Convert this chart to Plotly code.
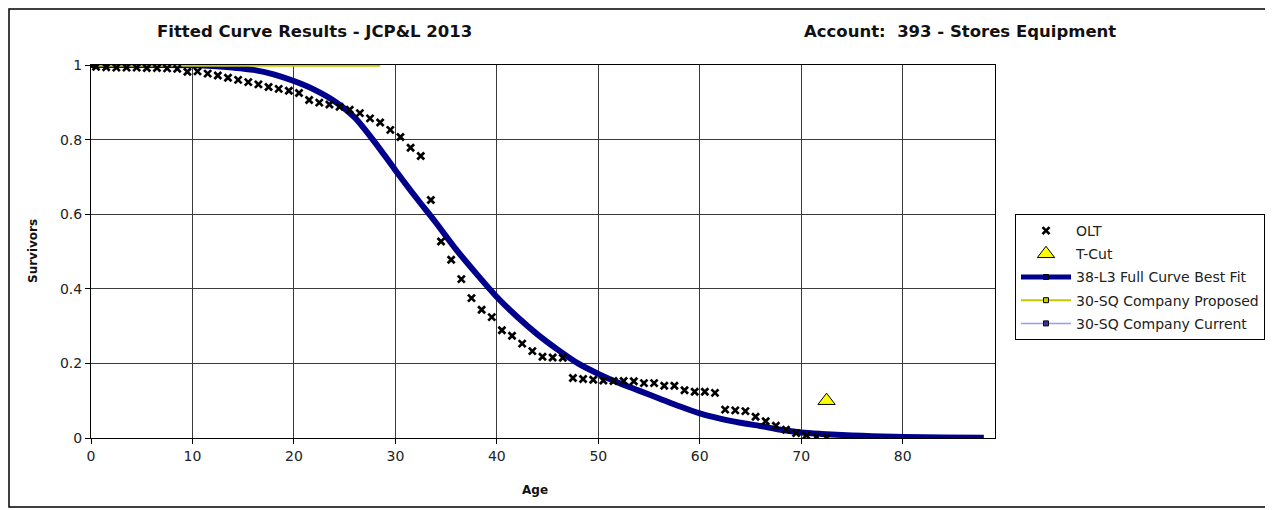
import plotly.graph_objects as go

# ---------------- data ----------------
olt_age = [0, 0.5, 1.5, 2.5, 3.5, 4.5, 5.5, 6.5, 7.5, 8.5, 9.5, 10.5, 11.5, 12.5, 13.5,
           14.5, 15.5, 16.5, 17.5, 18.5, 19.5, 20.5, 21.5, 22.5, 23.5, 24.5, 25.5, 26.5,
           27.5, 28.5, 29.5, 30.5, 31.5, 32.5, 33.5, 34.5, 35.5, 36.5, 37.5, 38.5, 39.5,
           40.5, 41.5, 42.5, 43.5, 44.5, 45.5, 46.5, 47.5, 48.5, 49.5, 50.5, 51.5, 52.5,
           53.5, 54.5, 55.5, 56.5, 57.5, 58.5, 59.5, 60.5, 61.5, 62.5, 63.5, 64.5, 65.5,
           66.5, 67.5, 68.5, 69.5, 70.5, 71.5, 72.5]
olt_surv = [1.0, 0.995, 0.994, 0.993, 0.993, 0.993, 0.992, 0.992, 0.991, 0.990, 0.982,
            0.983, 0.977, 0.972, 0.966, 0.960, 0.954, 0.948, 0.941, 0.936, 0.931, 0.925,
            0.906, 0.899, 0.894, 0.888, 0.880, 0.871, 0.857, 0.846, 0.826, 0.807, 0.778,
            0.756, 0.638, 0.527, 0.478, 0.426, 0.375, 0.344, 0.324, 0.289, 0.274, 0.253,
            0.233, 0.218, 0.216, 0.215, 0.161, 0.158, 0.156, 0.154, 0.153, 0.153, 0.152,
            0.147, 0.147, 0.140, 0.140, 0.128, 0.124, 0.124, 0.121, 0.076, 0.074, 0.072,
            0.057, 0.045, 0.033, 0.022, 0.013, 0.007, 0.003, 0.0]

tcut_age = [72.5]
tcut_surv = [0.1]

fit_age = [0, 5, 10, 12, 14, 16, 18, 20, 22, 24, 26, 28, 30, 32, 34, 36, 38, 40, 42, 44,
           46, 48, 50, 52, 54, 56, 58, 60, 62, 64, 66, 68, 70, 72, 74, 76, 78, 80, 84, 88]
fit_surv = [1.0, 1.0, 0.999, 0.997, 0.993, 0.987, 0.975, 0.957, 0.934, 0.903, 0.859,
            0.792, 0.718, 0.646, 0.577, 0.505, 0.440, 0.378, 0.325, 0.278, 0.237, 0.200,
            0.172, 0.148, 0.127, 0.106, 0.085, 0.066, 0.052, 0.041, 0.032, 0.022, 0.015,
            0.011, 0.008, 0.006, 0.004, 0.003, 0.0015, 0.0005]

sq_age = [0, 28.5]
sq_proposed = [1.0, 1.0]
sq_current = [1.0, 1.0]

x_ticks = [0, 10, 20, 30, 40, 50, 60, 70, 80]
y_ticks = [0, 0.2, 0.4, 0.6, 0.8, 1]
y_tick_labels = ["0", "0.2", "0.4", "0.6", "0.8", "1"]

# ---------------- styles ----------------
NAVY = "#00008C"
YELLOW_LINE = "#C8C800"
CURRENT = "#9999FF"
FONT = "DejaVu Sans"

fig = go.Figure()

fig.add_trace(go.Scatter(x=fit_age, y=fit_surv, mode="lines",
                         line=dict(color=NAVY, width=6, shape="spline", smoothing=0.8),
                         showlegend=False, hoverinfo="skip"))
fig.add_trace(go.Scatter(x=sq_age, y=sq_current, mode="lines", line=dict(color=CURRENT, width=2),
                         showlegend=False, hoverinfo="skip"))
fig.add_trace(go.Scatter(x=sq_age, y=sq_proposed, mode="lines", line=dict(color=YELLOW_LINE, width=3.5),
                         showlegend=False, hoverinfo="skip"))
fig.add_trace(go.Scatter(x=olt_age, y=olt_surv, mode="markers", name="OLT", legendgroup="g1",
                         marker=dict(symbol="x-thin", size=7, color="black", line=dict(color="black", width=2.7))))
fig.add_trace(go.Scatter(x=tcut_age, y=tcut_surv, mode="markers", name="T-Cut", legendgroup="g2",
                         marker=dict(symbol="triangle-up", size=15, color="#FFFF00", line=dict(color="black", width=1))))

# legend-only entries
fig.add_trace(go.Scatter(x=[None], y=[None], mode="lines+markers", name="38-L3 Full Curve Best Fit",
                         legendgroup="g3", line=dict(color=NAVY, width=5),
                         marker=dict(symbol="square", size=5, color=NAVY, line=dict(color="black", width=1))))
fig.add_trace(go.Scatter(x=[None], y=[None], mode="lines+markers", name="30-SQ Company Proposed",
                         legendgroup="g4", line=dict(color=YELLOW_LINE, width=2),
                         marker=dict(symbol="square", size=5, color=YELLOW_LINE, line=dict(color="black", width=1))))
fig.add_trace(go.Scatter(x=[None], y=[None], mode="lines+markers", name="30-SQ Company Current",
                         legendgroup="g5", line=dict(color=CURRENT, width=1.5),
                         marker=dict(symbol="square", size=5, color="#333399", line=dict(color="black", width=1))))

# page offset of 8px (body margin) compensated
OFF = 8
W, H = 1273 - OFF, 510 - OFF
L, R, T, B = 91 - OFF, 278, 65 - OFF, 72
PW, PH = W - L - R, H - T - B


def px_x(p):
    return (p - OFF - L) / PW


def px_y(p):
    return (H - B - (p - OFF)) / PH


axis_common = dict(ticks="outside", ticklen=5, tickcolor="black",
                   showgrid=True, gridcolor="#3a3a3a", gridwidth=1, zeroline=False,
                   showline=True, linecolor="black", linewidth=1, mirror=True,
                   layer="below traces",
                   tickfont=dict(family=FONT, size=14, color="#222"))

fig.update_layout(
    width=W, height=H,
    margin=dict(l=L, r=R, t=T, b=B, autoexpand=False),
    paper_bgcolor="white", plot_bgcolor="white",
    font=dict(family=FONT, size=14, color="#222"),
    xaxis=dict(range=[0, 89.1], tickvals=x_ticks, **axis_common),
    yaxis=dict(range=[0, 1], tickvals=y_ticks, ticktext=y_tick_labels, **axis_common),
    legend=dict(x=px_x(1015), y=px_y(214), xanchor="left", yanchor="top",
                bordercolor="black", borderwidth=1, bgcolor="white",
                font=dict(family=FONT, size=14, color="#222"), itemwidth=50,
                traceorder="grouped", tracegroupgap=2),
    showlegend=True,
)

fig.add_annotation(text="<b>Fitted Curve Results - JCP&L 2013</b>", xref="paper", yref="paper",
                   x=px_x(314), y=px_y(32), showarrow=False, xanchor="center", yanchor="middle",
                   font=dict(family=FONT, size=16.5, color="#111"))
fig.add_annotation(text="<b>Account:  393 - Stores Equipment</b>", xref="paper", yref="paper",
                   x=px_x(960), y=px_y(32), showarrow=False, xanchor="center", yanchor="middle",
                   font=dict(family=FONT, size=16.5, color="#111"))
fig.add_annotation(text="<b>Survivors</b>", xref="paper", yref="paper",
                   x=px_x(33), y=px_y(251), showarrow=False, textangle=-90,
                   xanchor="center", yanchor="middle", font=dict(family=FONT, size=12, color="#111"))
fig.add_annotation(text="<b>Age</b>", xref="paper", yref="paper",
                   x=px_x(535), y=px_y(490), showarrow=False,
                   xanchor="center", yanchor="middle", font=dict(family=FONT, size=12, color="#111"))

fig.add_shape(type="rect", xref="paper", yref="paper",
              x0=px_x(9), x1=px_x(1268), y0=px_y(507), y1=px_y(9),
              line=dict(color="black", width=1.5), layer="below")

fig.write_html("out.html")
